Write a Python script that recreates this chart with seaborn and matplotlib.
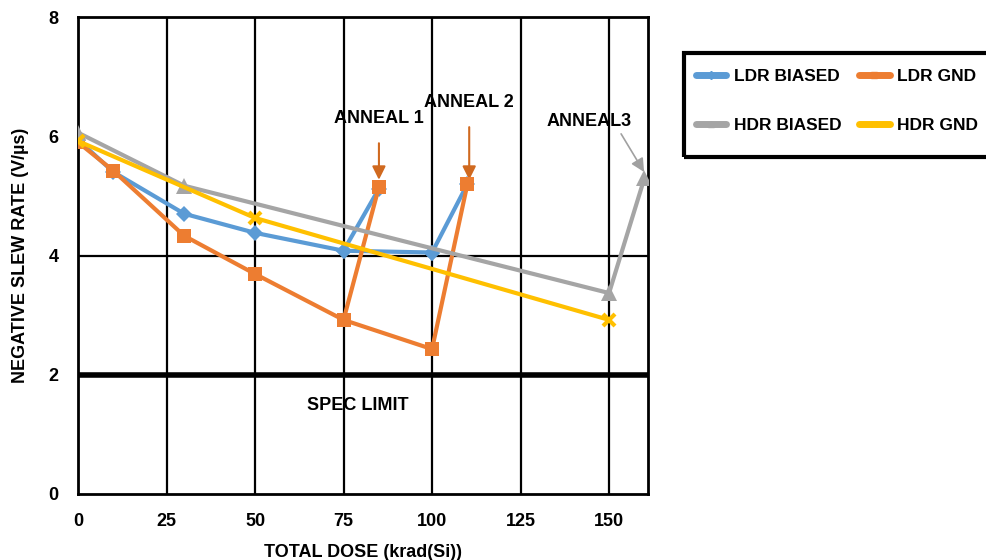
import matplotlib
matplotlib.use("Agg")
import matplotlib.pyplot as plt
import seaborn as sns
import pandas as pd
from matplotlib.lines import Line2D
from matplotlib.patches import Rectangle

# ---- data ----
dose_ldr = [0, 10, 30, 50, 75, 100]
ldr_biased = [5.94, 5.40, 4.70, 4.38, 4.08, 4.05]
ldr_gnd = [5.90, 5.42, 4.33, 3.69, 2.92, 2.43]
anneal_from = [75, 100]
anneal_dose = [85, 110]
ldr_biased_anneal = [5.12, 5.20]
ldr_gnd_anneal = [5.15, 5.20]

dose_hdr_biased = [0, 30, 150]
hdr_biased = [6.06, 5.17, 3.37]
hdr_anneal_dose = [160]
hdr_biased_anneal = [5.30]

dose_hdr_gnd = [0, 50, 150]
hdr_gnd = [5.92, 4.63, 2.92]

spec_limit = 2.0
series_names = ["LDR BIASED", "LDR GND", "HDR BIASED", "HDR GND"]
colors = ["#5B9BD5", "#ED7D31", "#A5A5A5", "#FFC000"]
markers = ["D", "s", "^", "x"]

sns.set_theme(style="white")
plt.rcParams['font.family'] = ['Liberation Sans', 'DejaVu Sans']
plt.rcParams['text.color'] = 'black'
plt.rcParams['axes.labelcolor'] = 'black'
plt.rcParams['xtick.color'] = 'black'
plt.rcParams['ytick.color'] = 'black'

FS = 13

fig = plt.figure(figsize=(9.87, 5.6), dpi=100)
ax = fig.add_axes([78/987, 1 - 494/560, (648-78)/987, (494-17)/560])

def seg(xs, ys, color, marker, ms, z):
    df = pd.DataFrame({"x": xs, "y": ys})
    sns.lineplot(data=df, x="x", y="y", ax=ax, color=color, lw=3, sort=False,
                 estimator=None, marker=marker, markersize=ms,
                 markeredgewidth=(3 if marker == "x" else 0),
                 markeredgecolor=color, zorder=z, legend=False)

lookup_b = dict(zip(dose_ldr, ldr_biased))
lookup_g = dict(zip(dose_ldr, ldr_gnd))

# LDR BIASED
seg(dose_ldr, ldr_biased, colors[0], "D", 8, 4)
for f, d, v in zip(anneal_from, anneal_dose, ldr_biased_anneal):
    seg([f, d], [lookup_b[f], v], colors[0], "D", 8, 4)
# LDR GND
seg(dose_ldr, ldr_gnd, colors[1], "s", 10, 5)
for f, d, v in zip(anneal_from, anneal_dose, ldr_gnd_anneal):
    seg([f, d], [lookup_g[f], v], colors[1], "s", 10, 5)
# HDR BIASED
seg(dose_hdr_biased + hdr_anneal_dose, hdr_biased + hdr_biased_anneal, colors[2], "^", 11, 6)
# HDR GND
seg(dose_hdr_gnd, hdr_gnd, colors[3], "x", 9, 7)

# spec limit
ax.axhline(spec_limit, color="black", lw=4, zorder=8)
ax.text(79, 1.49, "SPEC LIMIT", ha="center", va="center", fontsize=FS, fontweight="bold")

# grid
for xv in [25, 50, 75, 100, 125, 150]:
    ax.axvline(xv, color="black", lw=1.6, zorder=1)
ax.axhline(4, color="black", lw=1.6, zorder=1)

ax.set_xlim(0, 161)
ax.set_ylim(0, 8)
ax.set_xticks([0, 25, 50, 75, 100, 125, 150])
ax.set_yticks([0, 2, 4, 6, 8])
ax.tick_params(length=0, pad=14, labelsize=FS)
for lab in ax.get_xticklabels() + ax.get_yticklabels():
    lab.set_fontweight("bold")
for sp in ax.spines.values():
    sp.set_color("black")
    sp.set_linewidth(2)
ax.set_xlabel("TOTAL DOSE (krad(Si))", fontsize=FS, fontweight="bold", labelpad=10)
ax.set_ylabel("NEGATIVE SLEW RATE (V/µs)", fontsize=FS, fontweight="bold", labelpad=14)

# annotations
arr_c = "#D0691F"
ax.annotate("ANNEAL 1", xy=(85, 5.27), xytext=(85, 6.29), ha="center", va="center",
            fontsize=FS, fontweight="bold",
            arrowprops=dict(arrowstyle="-|>", color=arr_c, lw=1.5, mutation_scale=20, shrinkA=9, shrinkB=0))
ax.annotate("ANNEAL 2", xy=(110.5, 5.27), xytext=(110.5, 6.56), ha="center", va="center",
            fontsize=FS, fontweight="bold",
            arrowprops=dict(arrowstyle="-|>", color=arr_c, lw=1.5, mutation_scale=20, shrinkA=9, shrinkB=0))
ax.text(144.3, 6.24, "ANNEAL3", ha="center", va="center", fontsize=FS, fontweight="bold")
ax.annotate("", xy=(159.9, 5.40), xytext=(153.4, 6.04), annotation_clip=False,
            arrowprops=dict(arrowstyle="-|>", color="#A0A0A0", lw=1.2, mutation_scale=20, shrinkA=0, shrinkB=0))

# legend (column-major fill -> order so rows read LDR / HDR)
order = [0, 2, 1, 3]
handles = [Line2D([0], [0], color=colors[i], lw=5, marker=markers[i], markersize=4,
                  markeredgecolor=colors[i]) for i in order]
labels = [series_names[i] for i in order]
leg = fig.legend(handles, labels, loc="upper left",
                 bbox_to_anchor=(683/987, 1 - 56/560), ncol=2, frameon=False,
                 prop={"weight": "bold", "size": 12.5}, labelspacing=1.95,
                 columnspacing=1.0, handlelength=1.75, handletextpad=0.45,
                 borderpad=0.75, borderaxespad=0)
fig.patches.append(Rectangle((684/987, 1 - 157/560), (1000-684)/987, (157-53)/560,
                             transform=fig.transFigure, fill=False, edgecolor="black",
                             lw=3, zorder=10))

fig.savefig("out.png", dpi=100)
